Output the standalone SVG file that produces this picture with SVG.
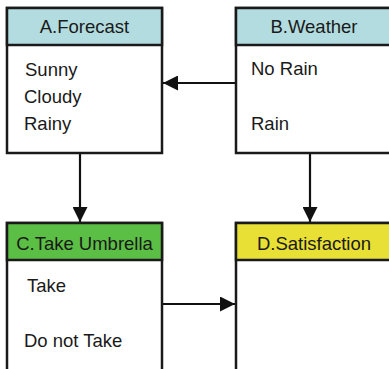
<svg xmlns="http://www.w3.org/2000/svg" width="389" height="369" viewBox="0 0 389 369">
<defs>
<style>
.box{fill:#ffffff;stroke:#1a1a1a;stroke-width:2.5}
.hdr{stroke:#1a1a1a;stroke-width:2.5}
.t{font-family:"Liberation Sans",Arial,sans-serif;font-size:18.5px;fill:#1a1a1a}
.c{text-anchor:middle}
.ln{stroke:#111;stroke-width:2.2;fill:none}
</style>
<marker id="ah" viewBox="0 0 10 10" refX="10" refY="5" markerWidth="15" markerHeight="15" markerUnits="userSpaceOnUse" orient="auto">
<path d="M0,0 L10,5 L0,10 z" fill="#111"/>
</marker>
</defs>
<rect width="389" height="369" fill="#ffffff"/>
<g id="connectors">
<line class="ln" x1="236" y1="83" x2="163" y2="83" marker-end="url(#ah)"/>
<line class="ln" x1="80" y1="154" x2="80" y2="222" marker-end="url(#ah)"/>
<line class="ln" x1="310" y1="154" x2="310" y2="222" marker-end="url(#ah)"/>
<line class="ln" x1="162" y1="304" x2="235" y2="304" marker-end="url(#ah)"/>
</g>
<g id="nodeA">
<rect class="box" x="7" y="8" width="155" height="145"/>
<rect class="hdr" x="7" y="8" width="155" height="37" fill="#b2dcdf"/>
<text class="t c" x="84.5" y="33">A.Forecast</text>
<text class="t" x="25" y="76">Sunny</text>
<text class="t" x="24" y="103">Cloudy</text>
<text class="t" x="24" y="130">Rainy</text>
</g>
<g id="nodeB">
<rect class="box" x="236" y="8" width="156" height="145"/>
<rect class="hdr" x="236" y="8" width="156" height="37" fill="#b2dcdf"/>
<text class="t c" x="314" y="33">B.Weather</text>
<text class="t" x="251" y="75">No Rain</text>
<text class="t" x="251" y="130">Rain</text>
</g>
<g id="nodeC">
<rect class="box" x="7" y="223" width="155" height="150"/>
<rect class="hdr" x="7" y="223" width="155" height="37" fill="#5cbf45"/>
<text class="t c" x="84.5" y="250">C.Take Umbrella</text>
<text class="t" x="27" y="292">Take</text>
<text class="t" x="24" y="347">Do not Take</text>
</g>
<g id="nodeD">
<rect class="box" x="236" y="223" width="156" height="150"/>
<rect class="hdr" x="236" y="223" width="156" height="37" fill="#e8e034"/>
<text class="t c" x="314" y="250">D.Satisfaction</text>
</g>
</svg>
